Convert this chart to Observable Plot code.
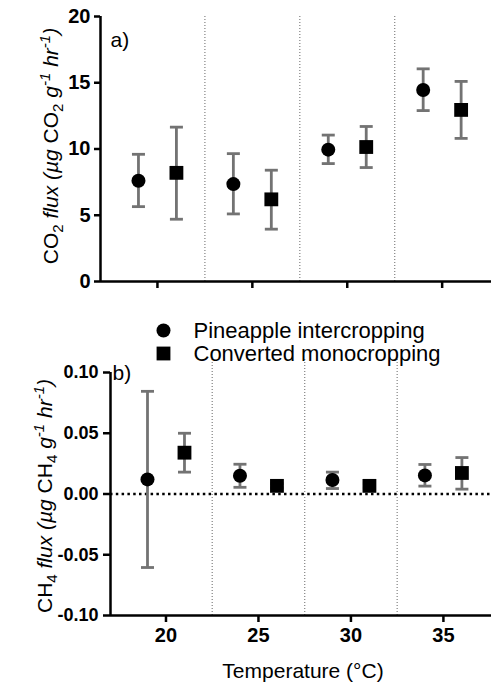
<!DOCTYPE html>
<html>
<head>
<meta charset="utf-8">
<script src="https://cdn.jsdelivr.net/npm/d3@7"></script>
<script src="https://cdn.jsdelivr.net/npm/@observablehq/plot@0.6"></script>
<style>
  body { margin: 0; background: white; }
  #chart { width: 492px; height: 688px; position: relative; background: white; }
  #chart svg { display: block; }
  g[aria-label="y-axis tick label"] text, g[aria-label="x-axis tick label"] text { font-weight: bold; }
</style>
</head>
<body>
<div id="chart"></div>
<script>
// ---- data ----
const temperatureTicks = [20, 25, 30, 35];
const dividers = [22.5, 27.5, 32.5];
const seriesNames = ["Pineapple intercropping", "Converted monocropping"];
const pineX = [19, 24, 29, 34];
const convX = [21, 26, 31, 36];

const co2Pine   = [7.6, 7.35, 9.95, 14.45];
const co2PineLo = [5.65, 5.1, 8.9, 12.9];
const co2PineHi = [9.6, 9.65, 11.05, 16.05];
const co2Conv   = [8.2, 6.2, 10.15, 12.95];
const co2ConvLo = [4.7, 3.95, 8.6, 10.8];
const co2ConvHi = [11.65, 8.4, 11.7, 15.1];

const ch4Pine   = [0.012, 0.015, 0.0115, 0.0153];
const ch4PineLo = [-0.0605, 0.0055, 0.0045, 0.0065];
const ch4PineHi = [0.0845, 0.0245, 0.018, 0.0243];
const ch4Conv   = [0.034, 0.0067, 0.0067, 0.0173];
const ch4ConvLo = [0.018, 0.005, 0.005, 0.004];
const ch4ConvHi = [0.050, 0.0085, 0.0085, 0.030];

const co2Ticks = [0, 5, 10, 15, 20];
const ch4Ticks = [-0.10, -0.05, 0, 0.05, 0.10];

// ---- build rows ----
function rows(xs, v, lo, hi, name) {
  return xs.map((x, i) => ({x, y: v[i], lo: lo[i], hi: hi[i], series: name}));
}
const co2Rows = [
  ...rows(pineX, co2Pine, co2PineLo, co2PineHi, seriesNames[0]),
  ...rows(convX, co2Conv, co2ConvLo, co2ConvHi, seriesNames[1])
];
const ch4Rows = [
  ...rows(pineX, ch4Pine, ch4PineLo, ch4PineHi, seriesNames[0]),
  ...rows(convX, ch4Conv, ch4ConvLo, ch4ConvHi, seriesNames[1])
];

const xDomain = [17, 37.6];
const FONT = "'Liberation Sans', Arial, sans-serif";
const ERR = "#737373";
const capSymbol = { draw(ctx, size) { const w = Math.sqrt(size / Math.PI); ctx.moveTo(-w, 0); ctx.lineTo(w, 0); } };

function markers(data) {
  return [
    Plot.ruleX(data, {x: "x", y1: "lo", y2: "hi", stroke: ERR, strokeWidth: 2.8}),
    Plot.dot(data, {x: "x", y: "lo", symbol: capSymbol, r: 6.5, stroke: ERR, strokeWidth: 2.8, fill: "none"}),
    Plot.dot(data, {x: "x", y: "hi", symbol: capSymbol, r: 6.5, stroke: ERR, strokeWidth: 2.8, fill: "none"}),
    Plot.dot(data.filter(d => d.series === seriesNames[0]), {x: "x", y: "y", symbol: "circle", r: 7, fill: "black", stroke: "none"}),
    Plot.dot(data.filter(d => d.series === seriesNames[1]), {x: "x", y: "y", symbol: "square", r: 7.8, fill: "black", stroke: "none"})
  ];
}

const fmt = d => (d < 0 ? "-" : "") + Math.abs(d).toFixed(2);

// ---- top panel ----
const topPanel = Plot.plot({
  width: 492, height: 300,
  marginLeft: 100, marginRight: 1, marginTop: 16, marginBottom: 19,
  x: {domain: xDomain},
  y: {domain: [0, 20]},
  style: {fontFamily: FONT, fontSize: "20px", color: "black", background: "white", overflow: "visible"},
  marks: [
    Plot.ruleX(dividers, {y1: 0, y2: 20, stroke: "#8a8a8a", strokeDasharray: "1,2", strokeWidth: 1.3}),
    Plot.axisX({ticks: temperatureTicks, tickSize: 7, tickFormat: () => "", label: null, strokeWidth: 2.5}),
    Plot.axisY({ticks: co2Ticks, tickSize: 6, tickPadding: 4, label: null, strokeWidth: 2.5}),
    Plot.ruleY([0], {strokeWidth: 2.5}),
    Plot.ruleX([xDomain[0]], {strokeWidth: 2.5}),
    ...markers(co2Rows),
    Plot.text(["a)"], {frameAnchor: "top-left", dx: 10, dy: 16, fontSize: 21, lineAnchor: "top", textAnchor: "start"})
  ]
});

// ---- bottom panel ----
const bottomPanel = Plot.plot({
  width: 492, height: 388,
  marginLeft: 110, marginRight: 1, marginTop: 72, marginBottom: 73,
  x: {domain: xDomain},
  y: {domain: [-0.10, 0.10]},
  style: {fontFamily: FONT, fontSize: "20px", color: "black", background: "white", overflow: "visible"},
  marks: [
    Plot.ruleX(dividers, {y1: -0.10, y2: 0.112, stroke: "#8a8a8a", strokeDasharray: "1,2", strokeWidth: 1.3}),
    Plot.ruleY([0], {stroke: "black", strokeWidth: 2.5, strokeDasharray: "2.5,3.3"}),
    Plot.axisX({ticks: temperatureTicks, tickSize: 7, tickPadding: 5, label: null, strokeWidth: 2.5}),
    Plot.axisY({ticks: ch4Ticks, tickFormat: fmt, tickSize: 7, tickPadding: 5, label: null, strokeWidth: 2.5, fontSize: 18}),
    Plot.ruleY([-0.10], {strokeWidth: 2.5}),
    Plot.ruleX([xDomain[0]], {strokeWidth: 2.5}),
    ...markers(ch4Rows),
    Plot.text(["b)"], {frameAnchor: "top-left", dx: 2, dy: -7, fontSize: 21, lineAnchor: "top", textAnchor: "start"}),
    // legend
    Plot.dot([seriesNames[0]], {frameAnchor: "top-left", dx: 53, dy: -42, symbol: "circle", r: 7, fill: "black"}),
    Plot.dot([seriesNames[1]], {frameAnchor: "top-left", dx: 53, dy: -19, symbol: "square", r: 7.8, fill: "black"}),
    Plot.text([seriesNames[0]], {text: d => d, frameAnchor: "top-left", dx: 83, dy: -42, fontSize: 22, textAnchor: "start", lineAnchor: "middle"}),
    Plot.text([seriesNames[1]], {text: d => d, frameAnchor: "top-left", dx: 83, dy: -19, fontSize: 22, textAnchor: "start", lineAnchor: "middle"})
  ]
});

const chart = document.getElementById("chart");
chart.appendChild(topPanel);
chart.appendChild(bottomPanel);

// ---- axis titles with sub/superscripts ----
function yTitle(svg, x, y, species, sub) {
  const t = d3.select(svg).append("text")
    .attr("transform", `translate(${x},${y}) rotate(-90)`)
    .attr("text-anchor", "middle")
    .attr("font-family", FONT)
    .attr("font-size", 21)
    .attr("fill", "black");
  const parts = [
    [species, null, 0], [sub, "s", 5], [" flux (µg ", "i", -5], [species, null, 0], [sub, "s", 5],
    [" g", "i", -5], ["-1", "sup", -8], [" hr", "i", 8], ["-1", "sup", -8], [")", "i", 8]
  ];
  for (const [txt, kind, dy] of parts) {
    const s = t.append("tspan").text(txt).attr("dy", dy);
    if (kind === "s" || kind === "sup") s.attr("font-size", 15);
    if (kind === "i" || kind === "sup") s.attr("font-style", "italic");
  }
}
yTitle(topPanel, 58, 146, "CO", "2");
yTitle(bottomPanel, 52, 196, "CH", "4");

d3.select(bottomPanel).append("text")
  .attr("x", 303).attr("y", 378)
  .attr("text-anchor", "middle")
  .attr("font-family", FONT)
  .attr("font-size", 21)
  .attr("fill", "black")
  .text("Temperature (°C)");
</script>
</body>
</html>
